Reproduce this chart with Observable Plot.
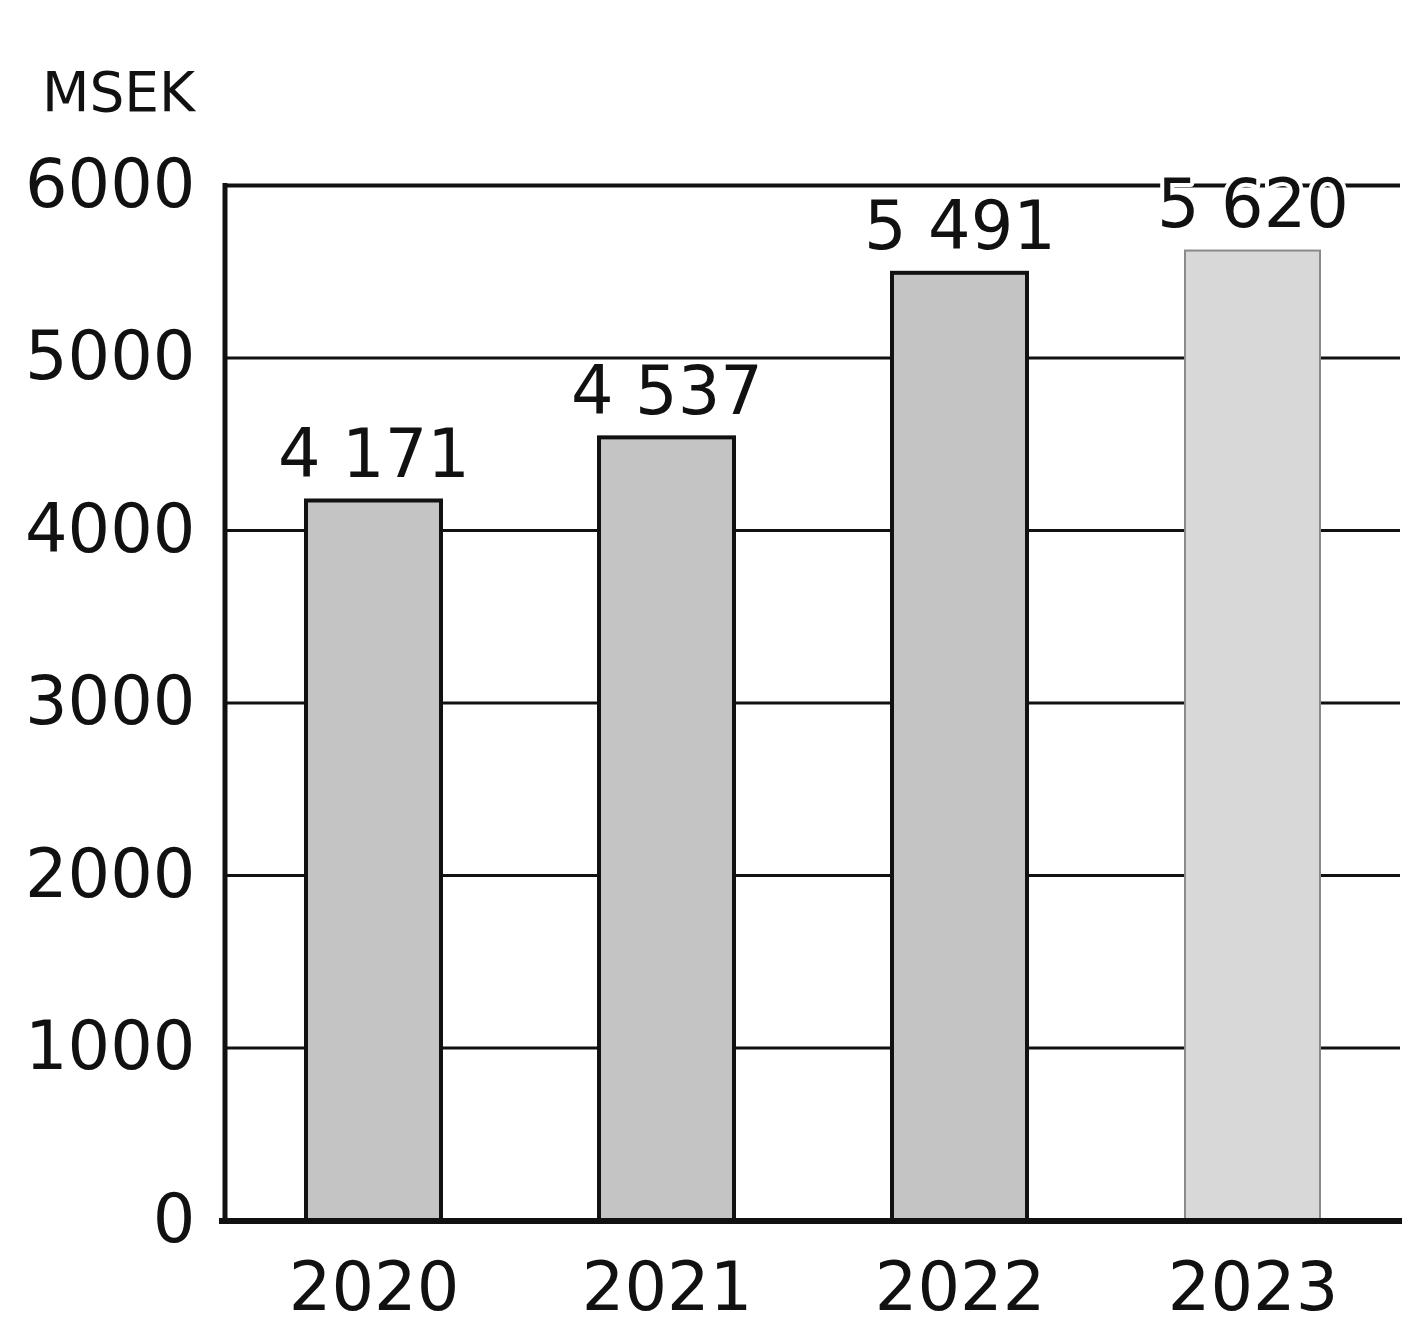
<!DOCTYPE html>
<html>
<head>
<meta charset="utf-8">
<script src="https://cdn.jsdelivr.net/npm/d3@7"></script>
<script src="https://cdn.jsdelivr.net/npm/@observablehq/plot@0.6"></script>
<style>
  body { margin: 0; background: #fff; }
  #wrap { position: relative; width: 1402px; height: 1330px; overflow: hidden; background: #fff; }
  #title { position: absolute; left: 42px; top: 65px; font-family: "DejaVu Sans", sans-serif; font-size: 55px; line-height: 1; color: #111; z-index: 2; }
  #chart { position: absolute; left: 0; top: 0; }
</style>
</head>
<body>
<div id="wrap"><div id="title"></div><div id="chart"></div></div>
<script>
const unit = "MSEK";
const years = ["2020", "2021", "2022", "2023"];
const values = [4171, 4537, 5491, 5620];
const yTicks = [0, 1000, 2000, 3000, 4000, 5000, 6000];

document.getElementById("title").textContent = unit;

const fmt = d3.formatLocale({decimal: ",", thousands: " ", grouping: [3], currency: ["", ""]}).format(",d");
const data = years.map((year, i) => ({year, value: values[i]}));
const lastYear = years[years.length - 1];
const yMax = yTicks[yTicks.length - 1];

const frameLines = (index, scales, vals, dims) => {
  const g = d3.create("svg:g").attr("stroke", "#111");
  g.append("line")
    .attr("x1", dims.marginLeft).attr("x2", dims.marginLeft)
    .attr("y1", scales.y(yMax) - 2).attr("y2", scales.y(0) + 2)
    .attr("stroke-width", 5);
  g.append("line")
    .attr("x1", dims.marginLeft - 6).attr("x2", dims.width)
    .attr("y1", scales.y(0) + 1).attr("y2", scales.y(0) + 1)
    .attr("stroke-width", 6);
  return g.node();
};

const chart = Plot.plot({
  width: 1402,
  height: 1330,
  marginLeft: 225,
  marginRight: 2,
  marginTop: 185,
  marginBottom: 110,
  style: {fontFamily: "'DejaVu Sans', sans-serif", fontSize: "67px", color: "#111", background: "white", overflow: "visible"},
  x: {domain: years, paddingInner: 0.54, paddingOuter: 0.273, label: null},
  y: {domain: [0, yMax], label: null},
  marks: [
    Plot.ruleY(yTicks.filter(d => d > 0 && d < yMax), {stroke: "#111", strokeWidth: 3}),
    Plot.ruleY([yMax], {stroke: "#111", strokeWidth: 4}),
    Plot.barY(data, {filter: d => d.year !== lastYear, x: "year", y: "value", fill: "#c4c4c4", stroke: "#111", strokeWidth: 4}),
    Plot.barY(data, {filter: d => d.year === lastYear, x: "year", y: "value", fill: "#d8d8d8", stroke: "#8a8a8a", strokeWidth: 2}),
    frameLines,
    Plot.axisY({ticks: yTicks, tickSize: 0, tickPadding: 30, tickFormat: d => String(d), label: null}),
    Plot.axisX({tickSize: 0, tickPadding: 42, label: null}),
    Plot.text(data, {x: "year", y: "value", text: d => fmt(d.value), dy: -24, lineAnchor: "bottom", fill: "#111", stroke: "white", strokeWidth: 8, fontSize: 67})
  ]
});
document.getElementById("chart").appendChild(chart);
</script>
</body>
</html>
